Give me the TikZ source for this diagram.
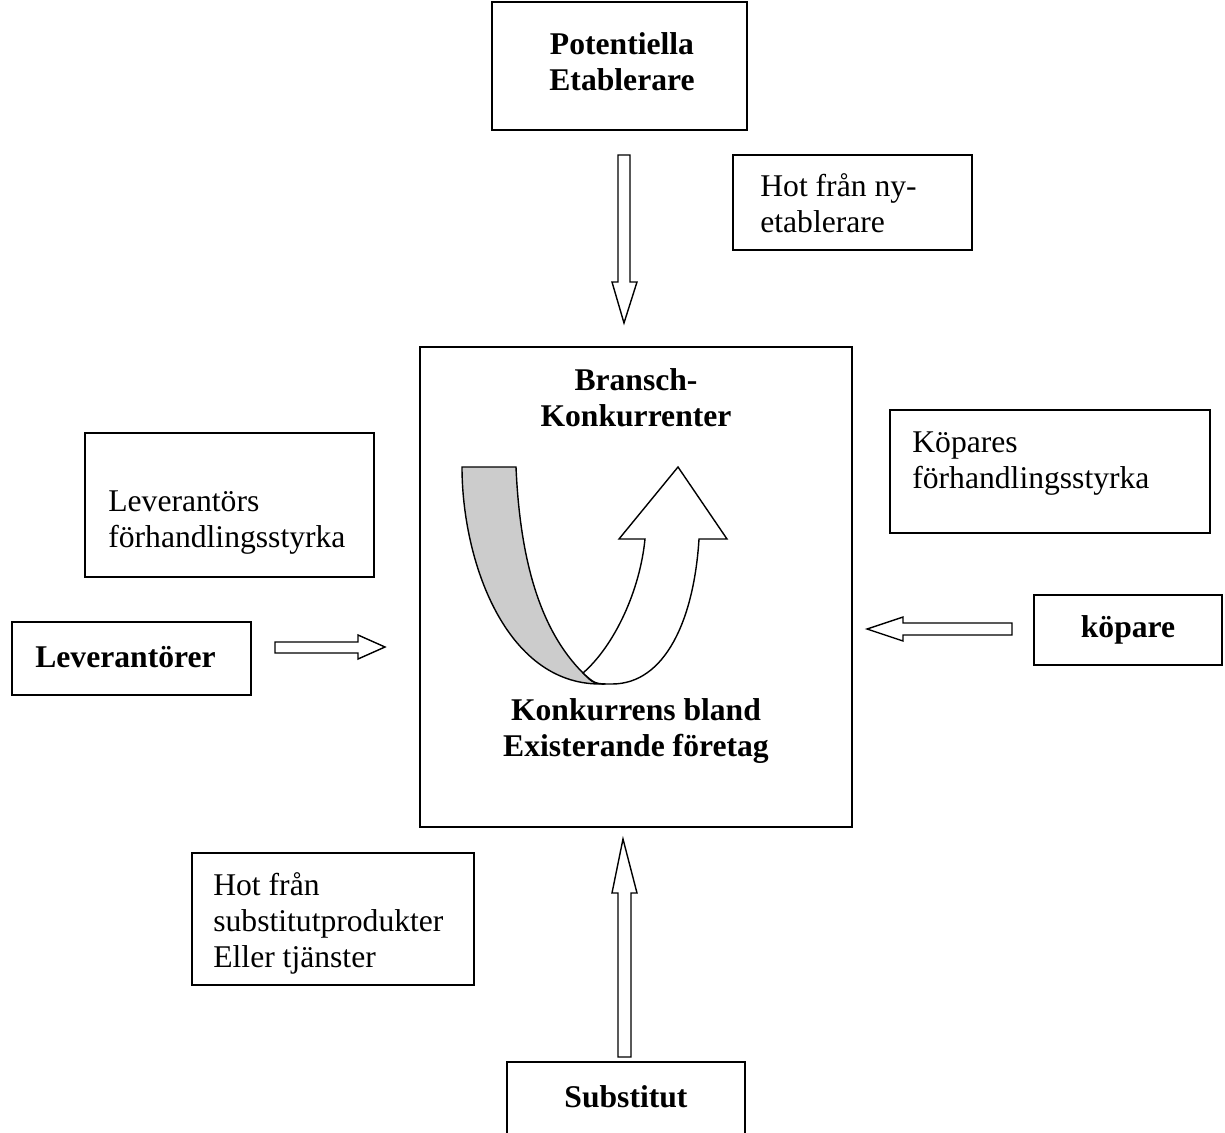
\documentclass[tikz,border=0pt]{standalone}
\usepackage{fontspec}
\setmainfont{Liberation Serif}
\usetikzlibrary{positioning}
\begin{document}
\begin{tikzpicture}[
    x=0.02cm, y=-0.02cm,
    every node/.style={font=\fontsize{18}{20.5}\selectfont},
    box/.style={draw, line width=0.8pt, inner sep=0pt},
    lbl/.style={align=left, inner sep=0pt, anchor=west},
    hdr/.style={align=center, inner sep=0pt, font=\fontsize{18}{20.5}\selectfont\bfseries},
    blk/.style={draw, line width=0.8pt, fill=white, line join=miter}
]
\useasboundingbox (0,0) rectangle (1225,1133);

% forces
\node[box, minimum width=5.10cm, minimum height=2.56cm] (pot) at (619.5,66) {};
\node[hdr] (pottxt) at (622,62) {Potentiella\\Etablerare};
\node[box, minimum width=8.64cm, minimum height=9.60cm] (bransch) at (636,587) {};
\node[box, minimum width=4.78cm, minimum height=1.46cm] (lev) at (131.5,658.5) {};
\node[hdr, anchor=west] (levtxt) at (35,657) {Leverant\"orer};
\node[box, hdr, minimum width=3.76cm, minimum height=1.40cm] (kop) at (1128,630) {k\"opare};
\node[box, minimum width=4.76cm, minimum height=1.56cm] (sub) at (626,1101) {};
\node[hdr] (subtxt) at (626,1097) {Substitut};

\node[hdr] (branschtxt) at (636,398) {Bransch-\\Konkurrenter};
\node[hdr] (konktxt) at (636,731) {Konkurrens bland\\Existerande f\"oretag};

% comment boxes
\node[box, minimum width=4.78cm, minimum height=1.90cm] (hotny) at (852.5,202.5) {};
\node[lbl] (hotnytxt) at (760,203.5) {Hot fr\aa n ny-\\etablerare};
\node[box, minimum width=6.40cm, minimum height=2.46cm] (kopstyrka) at (1050,471.5) {};
\node[lbl] (kopstyrkatxt) at (912,464) {K\"opares\\f\"orhandlingsstyrka};
\node[box, minimum width=5.78cm, minimum height=2.88cm] (levstyrka) at (229.5,505) {};
\node[lbl] (levstyrkatxt) at (108,523) {Leverant\"ors\\f\"orhandlingsstyrka};
\node[box, minimum width=5.64cm, minimum height=2.64cm] (hotsub) at (333,919) {};
\node[lbl] (hotsubtxt) at (213,923) {Hot fr\aa n\\substitutprodukter\\Eller tj\"anster};

% block arrows
\draw[blk] (618,155) -- (630,155) -- (630,282) -- (637,282) -- (624,323) -- (612,282) -- (618,282) -- cycle;
\draw[blk] (275,642) -- (358,642) -- (358,635) -- (385,647) -- (358,659) -- (358,653) -- (275,653) -- cycle;
\draw[blk] (1012,623) -- (903,623) -- (903,617) -- (867,629) -- (903,641) -- (903,635) -- (1012,635) -- cycle;
\draw[blk] (618,1057) -- (618,893) -- (612,893) -- (623,839) -- (637,893) -- (631,893) -- (631,1057) -- cycle;

% curved arrow
\draw[blk, fill=black!20] (462,467) .. controls (462,560) and (505,684) .. (600,684)
    .. controls (592,682) .. (583,673) .. controls (540,630) and (520,560) .. (516,467) -- cycle;
\draw[blk] (583,673) .. controls (595,684) .. (612,684) .. controls (665,684) and (694,620) .. (699,539)
    -- (727,539) -- (678,467) -- (619,539) -- (645,539) .. controls (640,590) and (615,645) .. (583,673) -- cycle;
\end{tikzpicture}
\end{document}
